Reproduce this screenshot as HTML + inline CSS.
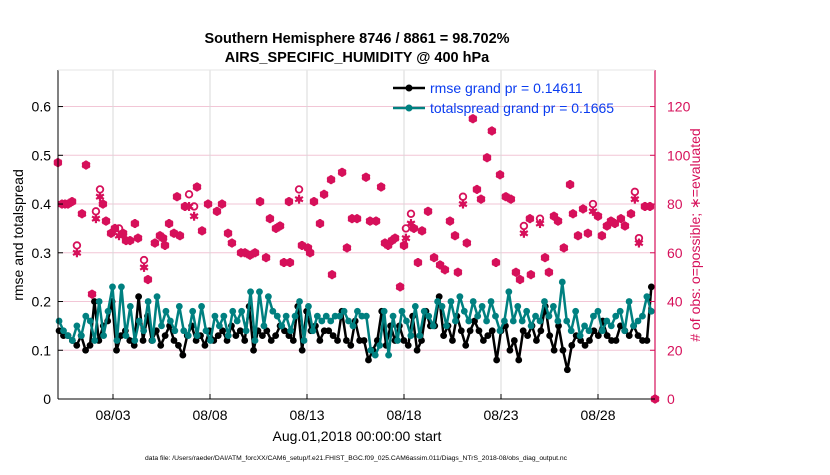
<!DOCTYPE html>
<html><head><meta charset="utf-8"><style>
body{margin:0;background:#fff;font-family:"Liberation Sans",Arial,sans-serif}
svg text{font-family:"Liberation Sans",Arial,sans-serif}
</style></head><body>
<svg id="chart" width="830" height="470" xmlns="http://www.w3.org/2000/svg">
<rect width="830" height="470" fill="#fff"/>
<text x="357" y="43" font-size="14.5" font-weight="bold" text-anchor="middle">Southern Hemisphere 8746 / 8861 = 98.702%</text>
<text x="357" y="62" font-size="14.5" font-weight="bold" text-anchor="middle">AIRS_SPECIFIC_HUMIDITY @ 400 hPa</text>
<g id="grid"></g><g id="obs"></g><g id="lines"></g><g id="axes"></g>
<text transform="translate(23,235) rotate(-90)" font-size="14" text-anchor="middle">rmse and totalspread</text>
<text transform="translate(700,235) rotate(-90)" font-size="14" fill="#d6105a" text-anchor="middle"># of obs: o=possible; ∗=evaluated</text>
<text x="357" y="441" font-size="14" text-anchor="middle">Aug.01,2018 00:00:00 start</text>
<text x="356" y="460" font-size="6.8" text-anchor="middle" textLength="422" lengthAdjust="spacingAndGlyphs">data file: /Users/raeder/DAI/ATM_forcXX/CAM6_setup/f.e21.FHIST_BGC.f09_025.CAM6assim.011/Diags_NTrS_2018-08/obs_diag_output.nc</text>
<g>
<line x1="393" y1="88" x2="425" y2="88" stroke="#000" stroke-width="2.5"/><circle cx="409" cy="88" r="3.5" fill="#000"/>
<text x="430" y="93" font-size="14" fill="#0a3cf0">rmse grand pr = 0.14611</text>
<line x1="393" y1="108" x2="425" y2="108" stroke="#008080" stroke-width="2.5"/><circle cx="409" cy="108" r="3.5" fill="#008080"/>
<text x="430" y="113" font-size="14" fill="#0a3cf0">totalspread grand pr = 0.1665</text>
</g>
</svg>
<script>
const xTickLabels=["08/03","08/08","08/13","08/18","08/23","08/28"];
const xTickDays=[2,7,12,17,22,27];
const yTicks=[0,0.1,0.2,0.3,0.4,0.5,0.6];
const y2Ticks=[0,20,40,60,80,100,120];
const rmse=[0.14,0.13,0.13,0.12,0.11,0.13,0.10,0.11,0.20,0.12,0.15,0.16,0.20,0.10,0.13,0.14,0.12,0.11,0.21,0.12,0.17,0.12,0.14,0.11,0.13,0.15,0.12,0.11,0.09,0.13,0.15,0.12,0.13,0.11,0.14,0.12,0.13,0.14,0.12,0.15,0.13,0.14,0.12,0.19,0.10,0.14,0.13,0.14,0.12,0.13,0.15,0.14,0.13,0.12,0.19,0.10,0.18,0.14,0.15,0.12,0.14,0.14,0.13,0.12,0.18,0.12,0.11,0.16,0.12,0.12,0.08,0.10,0.12,0.18,0.11,0.15,0.12,0.15,0.12,0.11,0.17,0.10,0.12,0.18,0.15,0.15,0.21,0.13,0.15,0.12,0.17,0.14,0.11,0.14,0.16,0.14,0.12,0.13,0.14,0.08,0.14,0.15,0.10,0.12,0.08,0.14,0.13,0.15,0.12,0.14,0.19,0.13,0.10,0.15,0.10,0.06,0.11,0.13,0.12,0.11,0.12,0.14,0.13,0.16,0.13,0.12,0.12,0.15,0.14,0.13,0.15,0.13,0.12,0.12,0.23];
const spread=[0.16,0.14,0.13,0.12,0.15,0.13,0.17,0.16,0.12,0.20,0.13,0.18,0.23,0.12,0.23,0.13,0.19,0.12,0.16,0.14,0.20,0.12,0.21,0.15,0.18,0.16,0.14,0.19,0.14,0.13,0.18,0.13,0.19,0.14,0.12,0.17,0.15,0.17,0.13,0.18,0.16,0.18,0.14,0.22,0.12,0.22,0.15,0.21,0.18,0.17,0.15,0.17,0.14,0.17,0.20,0.12,0.19,0.14,0.17,0.16,0.17,0.16,0.17,0.17,0.18,0.16,0.15,0.18,0.17,0.17,0.10,0.09,0.11,0.18,0.09,0.17,0.12,0.18,0.16,0.13,0.19,0.13,0.18,0.17,0.15,0.20,0.19,0.15,0.20,0.16,0.21,0.18,0.16,0.20,0.17,0.19,0.16,0.20,0.17,0.14,0.16,0.22,0.16,0.19,0.16,0.18,0.15,0.17,0.16,0.20,0.17,0.19,0.16,0.24,0.16,0.14,0.18,0.13,0.15,0.14,0.17,0.18,0.14,0.16,0.15,0.17,0.18,0.14,0.20,0.15,0.16,0.17,0.21,0.18];
const obsDays=[-0.84,-0.63,-0.47,-0.32,-0.11,0.14,0.40,0.61,0.92,1.12,1.33,1.48,1.64,1.90,2.10,2.31,2.52,2.67,2.88,3.13,3.29,3.60,3.80,4.16,4.42,4.58,4.68,4.89,5.14,5.30,5.45,5.71,5.92,6.18,6.33,6.59,6.90,7.36,7.62,7.93,8.13,8.60,8.80,9.06,9.32,9.58,9.89,10.09,10.40,10.61,10.81,11.12,11.07,11.59,11.74,12.05,12.16,12.36,12.67,12.88,13.24,13.29,13.81,14.06,14.32,14.58,15.04,15.25,15.56,15.82,16.02,16.18,16.38,16.54,16.80,17.00,17.10,17.36,17.51,17.72,17.93,18.24,18.55,18.86,19.11,19.37,19.63,19.78,20.04,20.24,20.55,20.76,20.97,21.28,21.53,21.74,21.95,22.25,22.51,22.77,22.98,23.18,23.49,23.54,24.01,24.27,24.47,24.73,24.94,25.24,25.56,25.71,25.97,26.23,26.48,26.74,27.00,27.20,27.46,27.67,27.87,28.18,28.39,28.70,28.90,29.11,29.42,29.68,29.94];
const evaluated=[97,80,80,80,81,60,76,96,43,74,83,80,73,68,70,67,68,65,65,72,66,54,49,64,67,66,63,72,68,83,67,79,79,75,87,69,80,77,80,68,64,60,60,59,60,81,58,74,70,71,56,56,81,82,63,62,60,81,72,84,90,51,93,62,74,74,91,73,73,87,64,63,65,66,46,63,66,72,70,56,69,77,58,55,53,73,67,52,80,64,115,86,82,99,110,56,92,83,82,52,49,68,74,51,72,58,52,75,73,62,88,76,67,78,68,77,75,67,71,73,72,74,71,76,82,64,79,79,0];
const possible=[97,80,80,80,81,63,76,96,43,77,86,80,73,68,70,70,68,65,65,72,66,57,49,64,67,66,63,72,68,83,67,79,84,79,87,69,80,77,80,68,64,60,60,59,60,81,58,74,70,71,56,56,81,86,63,62,60,81,72,84,90,51,93,62,74,74,91,73,73,87,64,63,65,66,46,63,70,76,70,56,69,77,58,55,53,73,67,52,83,64,115,86,82,99,110,56,92,83,82,52,49,71,74,51,74,58,52,75,73,62,88,76,67,78,68,80,75,67,71,73,72,74,71,76,85,66,79,79,0];
const NS="http://www.w3.org/2000/svg";
const L=58,R=655,T=70,B=399;
const pxPerDay=19.4,x0=74.2;
const xS=d=>x0+d*pxPerDay;
const yS=v=>B-v*(B-T)/0.675;
const y2S=n=>B-n*(B-T)/135;
function mk(tag,attrs,parent){const e=document.createElementNS(NS,tag);for(const k in attrs)e.setAttribute(k,attrs[k]);parent.appendChild(e);return e;}
const grid=document.getElementById('grid'),axes=document.getElementById('axes'),obs=document.getElementById('obs'),lines=document.getElementById('lines');
y2Ticks.forEach(n=>{const g=mk('line',{x1:L,x2:R,y1:y2S(n),y2:y2S(n),stroke:'#f2c6d6','stroke-width':1},grid);

});
xTickDays.forEach((d,i)=>{const g=mk('line',{x1:xS(d),x2:xS(d),y1:T,y2:B,stroke:'#d8d8d8','stroke-width':1},grid);


const tk=mk('line',{x1:xS(d),x2:xS(d),y1:B,y2:B-5,stroke:'#000'},axes);


const t=mk('text',{x:xS(d),y:420,'font-size':14,'text-anchor':'middle'},axes);t.textContent=xTickLabels[i];

});
yTicks.forEach(v=>{const t=mk('text',{x:51,y:yS(v)+5,'font-size':14,'text-anchor':'end'},axes);t.textContent=v===0?'0':v.toFixed(1);


mk('line',{x1:L,x2:L+5,y1:yS(v),y2:yS(v),stroke:'#000'},axes);});
y2Ticks.forEach(n=>{const t=mk('text',{x:667,y:y2S(n)+5,'font-size':14,fill:'#d6105a'},axes);t.textContent=n;


mk('line',{x1:R-5,x2:R,y1:y2S(n),y2:y2S(n),stroke:'#d6105a'},axes);});
const la=mk('line',{x1:L,x2:L,y1:T,y2:B,stroke:'#000','stroke-width':1},axes);
const ra=mk('line',{x1:R,x2:R,y1:T,y2:B,stroke:'#d6105a','stroke-width':1.2},axes);
const ba=mk('line',{x1:L,x2:R,y1:B,y2:B,stroke:'#000','stroke-width':1},axes);
mk('line',{x1:L,x2:R,y1:T,y2:T,stroke:'#e6e6e6','stroke-width':1},axes);
const C='#d6105a';
obsDays.forEach((d,i)=>{const x=xS(d);
const c=mk('circle',{cx:x,cy:y2S(possible[i]),r:3.3,fill:'none',stroke:C,'stroke-width':1.8},obs);


const y=y2S(evaluated[i]);const g=mk('g',{stroke:C,'stroke-width':2.2},obs);


[[0,4.5],[3.9,2.25],[3.9,-2.25]].forEach(([dx,dy])=>mk('line',{x1:x-dx,y1:y-dy,x2:x+dx,y2:y+dy},g));
mk('circle',{cx:x,cy:y,r:2.8,fill:C,stroke:'none'},g);});
function series(arr,color,name){const n=arr.length,step=(29.75-(-0.78))/(n-1);
const pts=arr.map((v,i)=>[xS(-0.78+i*step),yS(v)]);
const p=mk('polyline',{points:pts.map(p=>p.join(',')).join(' '),fill:'none',stroke:color,'stroke-width':2.5,'stroke-linejoin':'round'},lines);


pts.forEach(([x,y])=>{const c=mk('circle',{cx:x,cy:y,r:3.4,fill:color},lines);

});}
series(rmse,'#000','rmse');
series(spread,'#008080','totalspread');
</script>
</body></html>
